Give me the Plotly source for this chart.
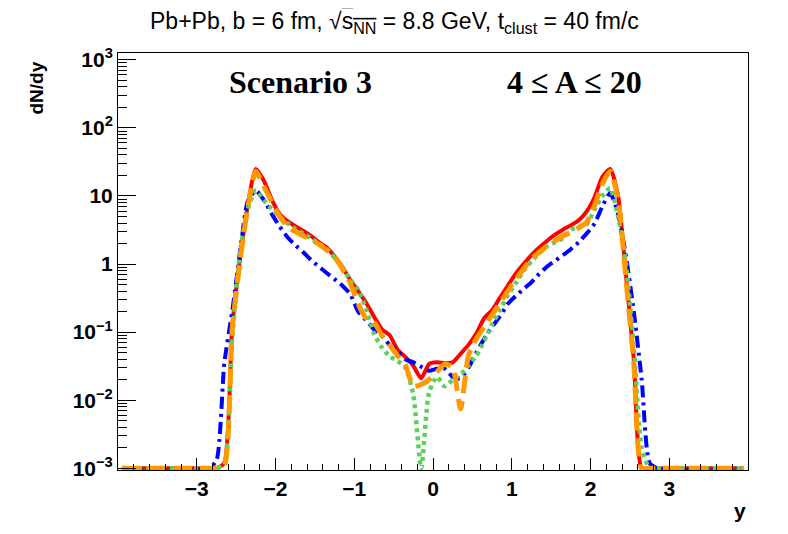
import plotly.graph_objects as go

# rapidity bin centres
y_bins = [-3.95, -2.85, -2.75, -2.65, -2.55, -2.45, -2.35, -2.25, -2.15, -2.05,
          -1.95, -1.85, -1.75, -1.65, -1.55, -1.45, -1.35, -1.25, -1.15, -1.05,
          -0.95, -0.85, -0.75, -0.65, -0.55, -0.45, -0.35, -0.25, -0.15, -0.05,
          0.05, 0.15, 0.25, 0.35, 0.45, 0.55, 0.65, 0.75, 0.85, 0.95,
          1.05, 1.15, 1.25, 1.35, 1.45, 1.55, 1.65, 1.75, 1.85, 1.95,
          2.05, 2.15, 2.25, 2.35, 2.45, 2.55, 2.65, 2.75, 2.85, 3.95]

red = [0.001, 0.001, 0.001, 0.0012, 0.12, 1.2, 7.5, 25, 17, 9.0,
       5.5, 4.3, 3.6, 3.1, 2.6, 2.1, 1.75, 1.3, 0.9, 0.58,
       0.40, 0.27, 0.17, 0.11, 0.09, 0.055, 0.043, 0.032, 0.021, 0.034,
       0.036, 0.035, 0.036, 0.048, 0.065, 0.095, 0.16, 0.21, 0.32, 0.48,
       0.72, 1.0, 1.35, 1.75, 2.2, 2.7, 3.2, 3.7, 4.4, 5.9,
       9.5, 19, 25, 10, 0.7, 0.04, 0.001, 0.001, 0.001, 0.001]

blue = [0.001, 0.001, 0.0013, 0.035, 0.2, 1.5, 8.5, 12, 8.8, 5.5,
        3.6, 2.5, 1.9, 1.5, 1.15, 0.92, 0.74, 0.6, 0.48, 0.36,
        0.2, 0.15, 0.11, 0.088, 0.065, 0.053, 0.04, 0.036, 0.031, 0.027,
        0.029, 0.029, 0.022, 0.021, 0.03, 0.05, 0.08, 0.12, 0.17, 0.26,
        0.34, 0.43, 0.54, 0.72, 0.92, 1.12, 1.35, 1.65, 2.1, 2.8,
        3.9, 7.0, 11, 5.5, 1.3, 0.2, 0.02, 0.0012, 0.001, 0.001]

green = [0.001, 0.001, 0.001, 0.0012, 0.08, 1.5, 6.5, 12, 8.7, 6.5,
         5.0, 4.0, 3.3, 2.8, 2.4, 2.0, 1.65, 1.25, 0.9, 0.59,
         0.42, 0.22, 0.095, 0.06, 0.044, 0.038, 0.03, 0.012, 0.001, 0.013,
         0.022, 0.016, 0.02, 0.024, 0.032, 0.045, 0.075, 0.13, 0.21, 0.35,
         0.52, 0.8, 1.1, 1.45, 1.85, 2.1, 2.4, 3.2, 3.5, 3.8,
         6.3, 10, 13, 5, 1.0, 0.06, 0.002, 0.001, 0.001, 0.001]

orange = [0.001, 0.001, 0.001, 0.0011, 0.11, 1.1, 7.0, 23, 14, 8.3,
          5.1, 3.6, 3.0, 2.6, 2.3, 1.95, 1.6, 1.25, 0.85, 0.52,
          0.26, 0.16, 0.14, 0.09, 0.065, 0.045, 0.033, 0.016, 0.017, 0.02,
          0.026, 0.034, 0.03, 0.0075, 0.045, 0.08, 0.12, 0.18, 0.27, 0.4,
          0.6, 0.85, 1.2, 1.5, 1.85, 2.2, 2.6, 2.9, 3.4, 4.1,
          7.2, 15, 23, 9, 0.6, 0.035, 0.001, 0.001, 0.001, 0.001]

x_ticks = [-3, -2, -1, 0, 1, 2, 3]
y_tickvals = [1e-3, 1e-2, 1e-1, 1, 10, 100, 1000]
y_ticktext = ['10<sup>\u22123</sup>', '10<sup>\u22122</sup>', '10<sup>\u22121</sup>',
              '1', '10', '10<sup>2</sup>', '10<sup>3</sup>']

series = [
    (red, '#ff0000', 'solid', 4),
    (blue, '#0000ff', '12px,5px,3px,5px', 4),
    (green, '#5ccf5c', '4px,4px', 4.5),
    (orange, '#ff9900', '18px,8px', 5),
]

fig = go.Figure()
for vals, col, dash, w in series:
    fig.add_trace(go.Scatter(x=y_bins, y=vals, mode='lines',
                             line=dict(color=col, dash=dash, width=w,
                                       shape='spline', smoothing=0.6),
                             showlegend=False, hoverinfo='skip'))

tickfont = dict(family='Liberation Sans', size=21, color='black', weight='bold')

fig.update_layout(
    width=788, height=534,
    margin=dict(l=110, r=48, t=45, b=72, autoexpand=False),
    paper_bgcolor='white', plot_bgcolor='white',
    xaxis=dict(range=[-4, 4], showline=True, linecolor='black', linewidth=1,
               mirror=True, showgrid=False, zeroline=False, automargin=False,
               ticks='inside', ticklen=12, tickcolor='black',
               tickvals=x_ticks, tickfont=tickfont,
               minor=dict(ticks='inside', ticklen=6, dtick=0.2, tickcolor='black', showgrid=False)),
    yaxis=dict(type='log', range=[-3.025, 3.1], showline=True, linecolor='black', linewidth=1,
               mirror=True, showgrid=False, zeroline=False, automargin=False,
               ticks='inside', ticklen=18, tickcolor='black',
               tickvals=y_tickvals, ticktext=y_ticktext, tickfont=tickfont,
               minor=dict(ticks='inside', ticklen=9, dtick='D1', tickcolor='black', showgrid=False)),
    annotations=[
        dict(text='Pb+Pb, b = 6 fm, \u221a<span style="text-decoration:overline">s<sub>NN</sub></span> = 8.8 GeV, t<sub>clust</sub> = 40 fm/c',
             xref='paper', yref='paper', x=0.4385, y=1.074, xanchor='center', yanchor='middle',
             showarrow=False,
             font=dict(family='Liberation Sans', size=23, color='black')),
        dict(text='<b>Scenario 3</b>', xref='paper', yref='paper', x=0.289, y=0.93,
             xanchor='center', yanchor='middle',
             showarrow=False, font=dict(family='Liberation Serif', size=32, color='black')),
        dict(text='<b>4 \u2264 A \u2264 20</b>', xref='paper', yref='paper', x=0.724, y=0.93,
             xanchor='center', yanchor='middle',
             showarrow=False, font=dict(family='Liberation Serif', size=32, color='black')),
        dict(text='<b>dN/dy</b>', xref='paper', yref='paper', x=-0.129, y=0.985,
             xanchor='center', yanchor='top', textangle=-90, showarrow=False,
             font=dict(family='Liberation Sans', size=19, color='black')),
        dict(text='<b>y</b>', xref='paper', yref='paper', x=0.987, y=-0.096,
             xanchor='center', yanchor='middle',
             showarrow=False, font=dict(family='Liberation Sans', size=21, color='black')),
    ],
)

fig.write_html('out.html', config={'displayModeBar': False})
